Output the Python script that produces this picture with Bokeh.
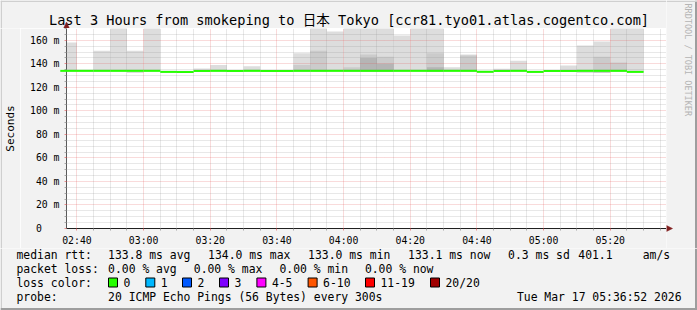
import math
from bokeh.plotting import figure
from bokeh.layouts import column, row
from bokeh.models import Range1d, FixedTicker, ColumnDataSource
from bokeh.core.properties import value
from bokeh.embed import file_html
from bokeh.resources import INLINE

# ---------------- data ----------------
range_start = "02:36:52"
range_end = "05:36:52"
step_minutes = 5  # 300 s probe step

bin_start_times = ["02:35", "02:40", "02:45", "02:50", "02:55", "03:00", "03:05",
                   "03:10", "03:15", "03:20", "03:25", "03:30", "03:35", "03:40",
                   "03:45", "03:50", "03:55", "04:00", "04:05", "04:10", "04:15",
                   "04:20", "04:25", "04:30", "04:35", "04:40", "04:45", "04:50",
                   "04:55", "05:00", "05:05", "05:10", "05:15", "05:20", "05:25"]

median_ms = [134.0, 134.0, 134.0, 134.0, 134.0, 134.0, 133.1, 133.0, 133.9, 134.0,
             133.9, 134.0, 133.9, 133.9, 134.0, 134.0, 134.0, 134.0, 134.0, 134.0,
             134.0, 134.0, 134.0, 134.0, 134.0, 133.2, 133.9, 134.0, 133.1, 133.9,
             133.9, 134.0, 134.0, 134.0, 133.1]

smoke_lo_ms = [133.4, 133.5, 133.4, 133.4, 132.1, 133.4, 133.0, 132.2, 133.5, 133.5,
               133.5, 133.5, 133.5, 133.5, 133.4, 133.4, 133.4, 133.4, 133.4, 133.4,
               133.4, 133.4, 133.4, 133.4, 133.4, 132.2, 133.5, 133.4, 132.3, 133.5,
               133.5, 132.2, 132.2, 133.4, 133.0]

smoke_hi_ms = [158.0, 134.8, 151.0, 178.0, 151.0, 171.0, 134.0, 134.0, 136.0, 138.9,
               134.5, 138.0, 134.5, 134.5, 149.0, 178.0, 167.5, 178.0, 178.0, 178.0,
               164.0, 178.0, 178.0, 137.0, 148.0, 134.0, 135.8, 142.6, 134.0, 134.5,
               138.6, 155.6, 159.0, 178.0, 178.0]

nan = float("nan")
smoke_mid_hi_ms = [nan, nan, nan, nan, nan, nan, nan, nan, nan, nan,
                   nan, nan, nan, nan, 139.0, 151.0, nan, 137.0, 148.0, 146.0,
                   nan, nan, 149.0, nan, 147.0, nan, nan, nan, nan, nan,
                   nan, nan, 146.0, 141.0, nan]

smoke_dark_hi_ms = [nan, nan, nan, nan, nan, nan, nan, nan, nan, nan,
                    nan, nan, nan, nan, nan, nan, nan, nan, 145.0, 140.0,
                    nan, nan, 137.0, nan, nan, nan, nan, nan, nan, nan,
                    nan, nan, nan, nan, nan]

x_tick_labels = ["02:40", "03:00", "03:20", "03:40", "04:00", "04:20", "04:40", "05:00", "05:20"]
y_tick_values = [0, 20, 40, 60, 80, 100, 120, 140, 160]
y_tick_labels = ["0\u00a0\u00a0\u00a0", "20 m", "40 m", "60 m", "80 m", "100 m", "120 m", "140 m", "160 m"]
y_max = 170

title_text = "Last 3 Hours from smokeping to 日本 Tokyo [ccr81.tyo01.atlas.cogentco.com]"
y_axis_title = "Seconds"
watermark = "RRDTOOL / TOBI OETIKER"
rtt_items = ["median rtt:", "133.8 ms avg", "134.0 ms max", "133.0 ms min", "133.1 ms now",
             "0.3 ms sd", "401.1", "am/s"]
loss_items = ["packet loss:", "0.00 % avg", "0.00 % max", "0.00 % min", "0.00 % now"]
loss_color_title = "loss color:"
loss_color_labels = ["0", "1", "2", "3", "4-5", "6-10", "11-19", "20/20"]
loss_colors = ["#26ff00", "#00b8ff", "#0059ff", "#7e00ff", "#ff00ff", "#ff5500", "#ff0000", "#a10000"]
probe_items = ["probe:", "20 ICMP Echo Pings (56 Bytes) every 300s"]
date_text = "Tue Mar 17 05:36:52 2026"


def to_min(s):
    parts = [int(v) for v in s.split(":")]
    while len(parts) < 3:
        parts.append(0)
    return parts[0] * 60 + parts[1] + parts[2] / 60.0


x0 = to_min(range_start)
x1 = to_min(range_end)
lefts = [to_min(t) for t in bin_start_times]
rights = [v + step_minutes for v in lefts]

src = ColumnDataSource(dict(left=lefts, right=rights, lo=smoke_lo_ms, hi=smoke_hi_ms,
                            mid=smoke_mid_hi_ms, dark=smoke_dark_hi_ms, med=median_ms))

# ---------------- page geometry (pixels) ----------------
W, H = 697, 310
FRAME_L, FRAME_T, FRAME_W, FRAME_H = 66, 28, 600, 200
LEFT_W = 20
AXIS_B = 20
MAIN_H = FRAME_T + FRAME_H + AXIS_B          # 248
LEG_H = H - MAIN_H                           # 62
RIGHT_W = W - FRAME_L - FRAME_W              # 31
BG = "#f2f2f2"
SHADE_A = "#cfcfcf"
SHADE_B = "#9e9e9e"
ARROW = "#801f1f"
MONO = "DejaVu Sans Mono"


def strip(width, height):
    f = figure(width=width, height=height, x_range=Range1d(0, width), y_range=Range1d(height, 0),
               output_backend="svg", toolbar_location=None, title=None,
               x_axis_type=None, y_axis_type=None,
               min_border_left=0, min_border_right=0, min_border_top=0, min_border_bottom=0,
               background_fill_color=BG, border_fill_color=BG, outline_line_color=None)
    f.frame_align = False
    f.grid.visible = False
    return f


# ---------------- main chart ----------------
p = figure(frame_width=FRAME_W, frame_height=FRAME_H,
           x_range=Range1d(x0, x1), y_range=Range1d(0, y_max),
           output_backend="svg", toolbar_location=None, title=None,
           min_border_left=FRAME_L - LEFT_W, min_border_right=0, min_border_top=0,
           min_border_bottom=AXIS_B,
           background_fill_color="#ffffff", border_fill_color=BG,
           outline_line_color=None)
p.frame_align = False

# smoke
p.quad(left="left", right="right", bottom="lo", top="hi", source=src,
       fill_color="#dddddd", line_color=None)
p.quad(left="left", right="right", bottom="lo", top="mid", source=src,
       fill_color="#cbcbcb", line_color=None)
p.quad(left="left", right="right", bottom="lo", top="dark", source=src,
       fill_color="#b5b5b5", line_color=None)
# median line
p.segment(x0="left", x1="right", y0="med", y1="med", source=src,
          line_color=loss_colors[0], line_width=2, level="overlay")

# axes / ticks
x_tick_values = [to_min(t) for t in x_tick_labels]
x_minor = []
t = x_tick_values[0]
while t < x1:
    if t > x0 and all(abs(t - m) > 1e-6 for m in x_tick_values):
        x_minor.append(t)
    t += step_minutes
y_minor = [v for v in range(0, y_max + 1, 5) if v not in y_tick_values]

p.xaxis.ticker = FixedTicker(ticks=x_tick_values, minor_ticks=x_minor)
p.xaxis.major_label_overrides = {v: l for v, l in zip(x_tick_values, x_tick_labels)}
p.yaxis.ticker = FixedTicker(ticks=y_tick_values, minor_ticks=y_minor)
p.yaxis.major_label_overrides = {v: l for v, l in zip(y_tick_values, y_tick_labels)}

for ax in (p.xaxis, p.yaxis):
    ax.major_label_text_font = MONO
    ax.major_label_text_font_size = "9.8px"
    ax.major_label_text_color = "#000000"
    ax.major_tick_in = 0
    ax.major_tick_out = 2
    ax.minor_tick_in = 0
    ax.minor_tick_out = 2
    ax.major_tick_line_color = "#de4f4f"
    ax.major_tick_line_alpha = 0.6
    ax.minor_tick_line_color = "#8f8f8f"
    ax.minor_tick_line_alpha = 0.75
p.xaxis.axis_line_color = "#1f1f1f"
p.yaxis.axis_line_color = "#5a5a5a"
p.xaxis.major_label_standoff = 4
p.yaxis.major_label_standoff = 5

for g in (p.xgrid, p.ygrid):
    g.level = "guide"
    g.grid_line_color = "#e05050"
    g.grid_line_alpha = 0.42
    g.grid_line_dash = "1 1"
    g.minor_grid_line_color = "#8f8f8f"
    g.minor_grid_line_alpha = 0.4
    g.minor_grid_line_dash = "1 1"

# ---------------- top strip: title + y-axis arrow ----------------
top = strip(FRAME_L + FRAME_W, FRAME_T)
top.quad(left=[0], right=[FRAME_L + FRAME_W], top=[0], bottom=[1.5], fill_color=SHADE_A, line_color=None)
top.quad(left=[0], right=[1.5], top=[0], bottom=[FRAME_T], fill_color=SHADE_A, line_color=None)
top.text(x=[W / 2], y=[19], text=[title_text],
         text_font=value("DejaVu Sans Mono, Noto Sans CJK JP"), text_font_size="13.6px",
         text_align="center", text_baseline="middle", text_color="#000000")
top.patch(x=[FRAME_L - 3, FRAME_L, FRAME_L + 3], y=[FRAME_T, FRAME_T - 6.5, FRAME_T],
          fill_color=ARROW, line_color=ARROW, line_width=0.5)

# ---------------- left strip: axis title ----------------
left = strip(LEFT_W, FRAME_H + AXIS_B)
left.quad(left=[0], right=[1.5], top=[0], bottom=[FRAME_H + AXIS_B], fill_color=SHADE_A, line_color=None)
left.text(x=[10], y=[128 - FRAME_T], text=[y_axis_title], angle=math.pi / 2, text_font=value(MONO),
          text_font_size="11px", text_align="center", text_baseline="middle",
          text_color="#000000")

# ---------------- right strip: x-axis arrow + watermark ----------------
right = strip(RIGHT_W, MAIN_H)
right.quad(left=[RIGHT_W - 2.5], right=[RIGHT_W], top=[0], bottom=[MAIN_H],
           fill_color=SHADE_B, line_color=None)
right.quad(left=[0], right=[RIGHT_W], top=[0], bottom=[1.5], fill_color=SHADE_A, line_color=None)
right.text(x=[21], y=[3], text=[watermark], angle=-math.pi / 2, text_font=value(MONO),
           text_font_size="8.5px", text_align="left", text_baseline="middle",
           text_color="#b4b4b4")
ay = FRAME_T + FRAME_H
right.patch(x=[0, 6, 0], y=[ay - 3, ay, ay + 3], fill_color=ARROW, line_color=ARROW, line_width=0.5)

# ---------------- legend strip ----------------
leg = strip(W, LEG_H)
leg.quad(left=[0], right=[1.5], top=[0], bottom=[LEG_H], fill_color=SHADE_A, line_color=None)
leg.quad(left=[W - 2.5], right=[W], top=[0], bottom=[LEG_H], fill_color=SHADE_B, line_color=None)
leg.quad(left=[0], right=[W], top=[LEG_H - 2.5], bottom=[LEG_H], fill_color=SHADE_B, line_color=None)

row_y = [254 - MAIN_H, 268 - MAIN_H, 282 - MAIN_H, 296 - MAIN_H]
txt_x, txt_y, txt_s = [], [], []
for x, s in zip([16, 107.6, 207.6, 307.6, 407.6, 507.6, 577.8, 642.2], rtt_items):
    txt_x.append(x); txt_y.append(row_y[0]); txt_s.append(s)
for x, s in zip([16, 107.6, 193.3, 279.0, 364.4], loss_items):
    txt_x.append(x); txt_y.append(row_y[1]); txt_s.append(s)
txt_x.append(16); txt_y.append(row_y[2]); txt_s.append(loss_color_title)
swatch_x = [108, 145.3, 182, 219, 256.4, 307.6, 365, 430]
for x, s in zip(swatch_x, loss_color_labels):
    txt_x.append(x + 15); txt_y.append(row_y[2]); txt_s.append(s)
for x, s in zip([16, 107.6], probe_items):
    txt_x.append(x); txt_y.append(row_y[3]); txt_s.append(s)

leg.text(x=txt_x, y=txt_y, text=txt_s, text_font=value(MONO), text_font_size="11.4px",
         text_baseline="middle", text_align="left", text_color="#000000")
leg.text(x=[681], y=[row_y[3]], text=[date_text], text_font=value(MONO),
         text_font_size="11.4px", text_baseline="middle", text_align="right",
         text_color="#000000")
leg.quad(left=swatch_x, right=[v + 9 for v in swatch_x],
         top=[row_y[2] - 4.5] * len(swatch_x), bottom=[row_y[2] + 4.5] * len(swatch_x),
         fill_color=loss_colors, line_color="#000000", line_width=1)

upper = row(column(top, row(left, p, spacing=0), spacing=0), right, spacing=0)
layout = column(upper, leg, spacing=0)
open("out.html", "w").write(file_html(layout, INLINE))
